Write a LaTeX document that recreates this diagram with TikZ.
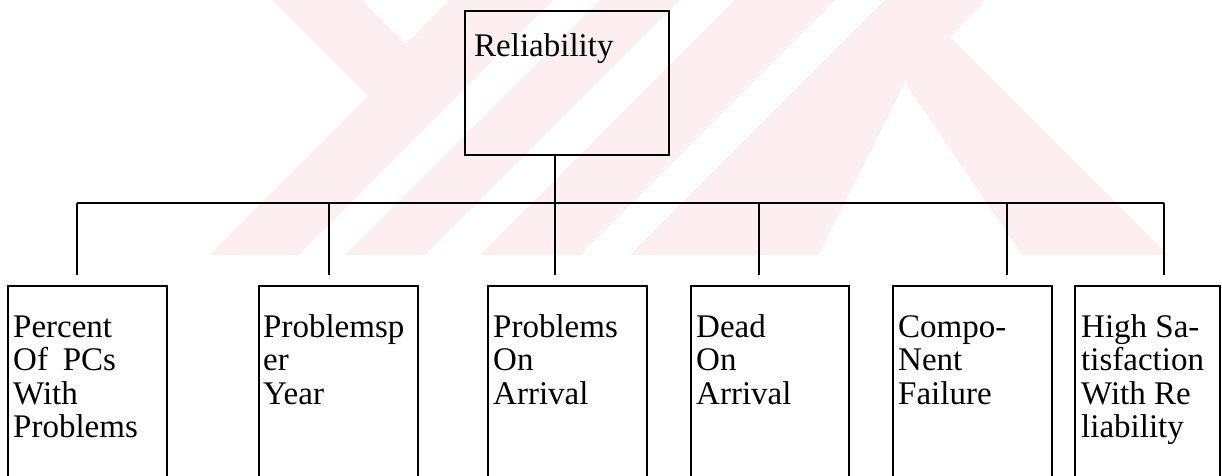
\documentclass[tikz,border=0pt]{standalone}
\usepackage{fontspec}
\setmainfont{Liberation Serif}
\definecolor{emblem}{RGB}{253,238,241}
\begin{document}
\begin{tikzpicture}[x=1pt,y=-1pt,
  box/.style={draw, line width=1.8pt, rectangle, inner sep=0pt, outer sep=0pt, anchor=north west},
  leaf/.style={box, minimum height=200pt},
  boxtext/.style={anchor=north west, inner sep=0pt, align=left, font=\fontsize{33}{33.5}\selectfont},
  link/.style={line width=1.8pt}]
\useasboundingbox (0,0) rectangle (1222,475);
\clip (0,0) rectangle (1222,475);

% faint emblem behind the chart
\fill[emblem] (273,0) -- (985,0) -- (950,37) -- (1168,255) -- (210,255) -- (369,96) -- cycle;
\fill[white] (362,0) -- (450,0) -- (406,44) -- cycle;
\fill[white] (553,0) -- (600,0) -- (345,255) -- (298,255) -- cycle;
\fill[white] (680,0) -- (735,0) -- (480,255) -- (425,255) -- cycle;
\fill[white] (835,0) -- (885,0) -- (630,255) -- (580,255) -- cycle;
\fill[white] (905,82) -- (1022,255) -- (818,255) -- cycle;

% root
\node[box, minimum width=204pt, minimum height=144pt] (root) at (465,11) {};
\node[boxtext, font=\fontsize{33}{31.7}\selectfont] (roottext) at (474,33) {\strut Reliability};

% leaves
\node[leaf, minimum width=159pt] (b1) at (8,286) {};
\node[leaf, minimum width=159pt] (b2) at (259,286) {};
\node[leaf, minimum width=159pt] (b3) at (488,286) {};
\node[leaf, minimum width=158pt] (b4) at (691,286) {};
\node[leaf, minimum width=159pt] (b5) at (893,286) {};
\node[leaf, minimum width=145pt] (b6) at (1075,286) {};

\node[boxtext] (t1) at (13,313.5) {\strut Percent\\Of\hspace{0.45em}PCs\\With\\Problems};
\node[boxtext] (t2) at (263,313.5) {\strut Problemsp\\er\\Year};
\node[boxtext] (t3) at (493,313.5) {\strut Problems\\On\\Arrival};
\node[boxtext] (t4) at (696,313.5) {\strut Dead\\On\\Arrival};
\node[boxtext] (t5) at (898,313.5) {\strut Compo-\\Nent\\Failure};
\node[boxtext] (t6) at (1081,313.5) {\strut High Sa-\\tisfaction\\With Re\\liability};

% bus and drops
\coordinate (hub) at (555,203);
\coordinate (d1) at (77,203);
\coordinate (d2) at (329,203);
\coordinate (d3) at (555,203);
\coordinate (d4) at (759,203);
\coordinate (d5) at (1007,203);
\coordinate (d6) at (1164,203);

\draw[link] (root.south -| hub) -- (hub);
\draw[link] (d1) -- (d6);
\foreach \k in {1,...,6}
  \draw[link, shorten >=11pt] (d\k) -- (d\k |- b\k.north);
\end{tikzpicture}
\end{document}
